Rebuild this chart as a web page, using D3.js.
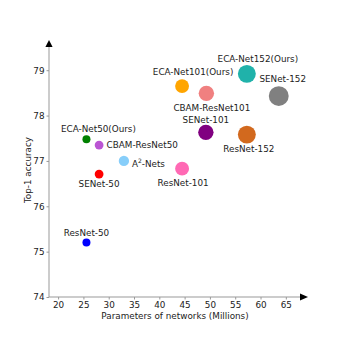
<!DOCTYPE html>
<html>
<head>
<meta charset="utf-8">
<script src="https://cdn.jsdelivr.net/npm/d3@7"></script>
<style>
  html, body { margin: 0; padding: 0; background: #fff; }
  svg text { font-family: "DejaVu Sans", sans-serif; }
</style>
</head>
<body>
<div id="chart"></div>
<script>
// Data
const models  = ["ResNet-50", "SENet-50", "ECA-Net50(Ours)", "CBAM-ResNet50", "A2-Nets",
                 "ResNet-101", "ECA-Net101(Ours)", "CBAM-ResNet101", "SENet-101",
                 "ResNet-152", "ECA-Net152(Ours)", "SENet-152"];
const params  = [25.6, 28.1, 25.6, 28.1, 33.0, 44.5, 44.5, 49.3, 49.2, 57.3, 57.3, 63.6];
const top1    = [75.20, 76.71, 77.48, 77.35, 77.00, 76.83, 78.65, 78.49, 77.63, 77.58, 78.92, 78.43];
const colors  = ["#0000ff", "#ff0000", "#008000", "#ba55d3", "#87cefa", "#ff69b4",
                 "#ffa500", "#f08080", "#800080", "#d2691e", "#20b2aa", "#808080"];
const xTicks  = [20, 25, 30, 35, 40, 45, 50, 55, 60, 65];
const yTicks  = [74, 75, 76, 77, 78, 79];

// label placement relative to each marker (dx, dy of label centre, anchor)
const labelPos = [
  [0, -10, "middle"], [0, 10, "middle"], [12, -10, "middle"], [7.5, 0, "start"],
  [8, 3, "start"], [1, 14, "middle"], [11, -14, "middle"], [5.5, 15, "middle"],
  [0, -12.5, "middle"], [2, 14.5, "middle"], [11, -14.5, "middle"], [4, -17, "middle"]
];

const W = 341, H = 341;
const svg = d3.select("#chart").append("svg").attr("width", W).attr("height", H);

const x = d3.scaleLinear().domain([18.2, 68]).range([49, 301]);
const y = d3.scaleLinear().domain([74, 79.6]).range([297, 43]);
const r = d3.scaleLinear().domain([0, 64]).range([0, 10]);

const AXIS = "#999", INK = "#222";

// Axes (ticks + labels)
const gx = svg.append("g").attr("transform", `translate(0,${y(74)})`)
  .call(d3.axisBottom(x).tickValues(xTicks).tickFormat(d3.format("d")).tickSize(2.5).tickPadding(2));
const gy = svg.append("g").attr("transform", `translate(${x(18.2)},0)`)
  .call(d3.axisLeft(y).tickValues(yTicks).tickFormat(d3.format("d")).tickSize(2.5).tickPadding(2));
[gx, gy].forEach(g => {
  g.select(".domain").remove();
  g.selectAll(".tick line").attr("stroke", AXIS);
  g.selectAll(".tick text").attr("fill", INK).attr("font-size", 8.8)
    .attr("font-family", "DejaVu Sans, sans-serif");
});

// Axis lines with arrow heads
const x0 = x.range()[0], x1 = x.range()[1], y0 = y.range()[0], y1 = y.range()[1];
svg.append("line").attr("x1", x0).attr("x2", x1).attr("y1", y0).attr("y2", y0)
  .attr("stroke", AXIS).attr("stroke-width", 1);
svg.append("line").attr("x1", x0).attr("x2", x0).attr("y1", y0).attr("y2", y1 + 3)
  .attr("stroke", AXIS).attr("stroke-width", 1);
svg.append("path").attr("fill", "#000")
  .attr("d", `M${x1 - 1},${y0 - 3.6}L${x1 + 7},${y0}L${x1 - 1},${y0 + 3.6}Z`);
svg.append("path").attr("fill", "#000")
  .attr("d", `M${x0 - 3.6},${y1 + 4}L${x0},${y1 - 3}L${x0 + 3.6},${y1 + 4}Z`);

// Axis titles
svg.append("text").attr("x", (x0 + x1) / 2).attr("y", 318.5)
  .attr("text-anchor", "middle").attr("font-size", 8.8).attr("fill", INK)
  .text("Parameters of networks (Millions)");
svg.append("text")
  .attr("transform", `translate(31,${(y0 + y1) / 2}) rotate(-90)`)
  .attr("text-anchor", "middle").attr("font-size", 8.8).attr("fill", INK)
  .text("Top-1 accuracy");

const data = models.map((m, i) => ({ name: m, p: params[i], acc: top1[i], c: colors[i], pos: labelPos[i] }));

// Markers
svg.selectAll(".dot").data(data).join("circle")
  .attr("class", "dot")
  .attr("cx", d => x(d.p)).attr("cy", d => y(d.acc))
  .attr("r", d => r(d.p)).attr("fill", d => d.c);

// Labels
const lbl = svg.selectAll(".lbl").data(data).join("text")
  .attr("class", "lbl")
  .attr("x", d => x(d.p) + d.pos[0]).attr("y", d => y(d.acc) + d.pos[1])
  .attr("dy", "0.35em").attr("text-anchor", d => d.pos[2])
  .attr("font-size", 8.8).attr("fill", INK);
lbl.each(function (d) {
  const t = d3.select(this);
  if (d.name === "A2-Nets") {
    t.append("tspan").text("A");
    t.append("tspan").attr("font-size", 6).attr("dy", -4).text("2");
    t.append("tspan").attr("dy", 4).text("-Nets");
  } else {
    t.text(d.name);
  }
});
</script>
</body>
</html>
